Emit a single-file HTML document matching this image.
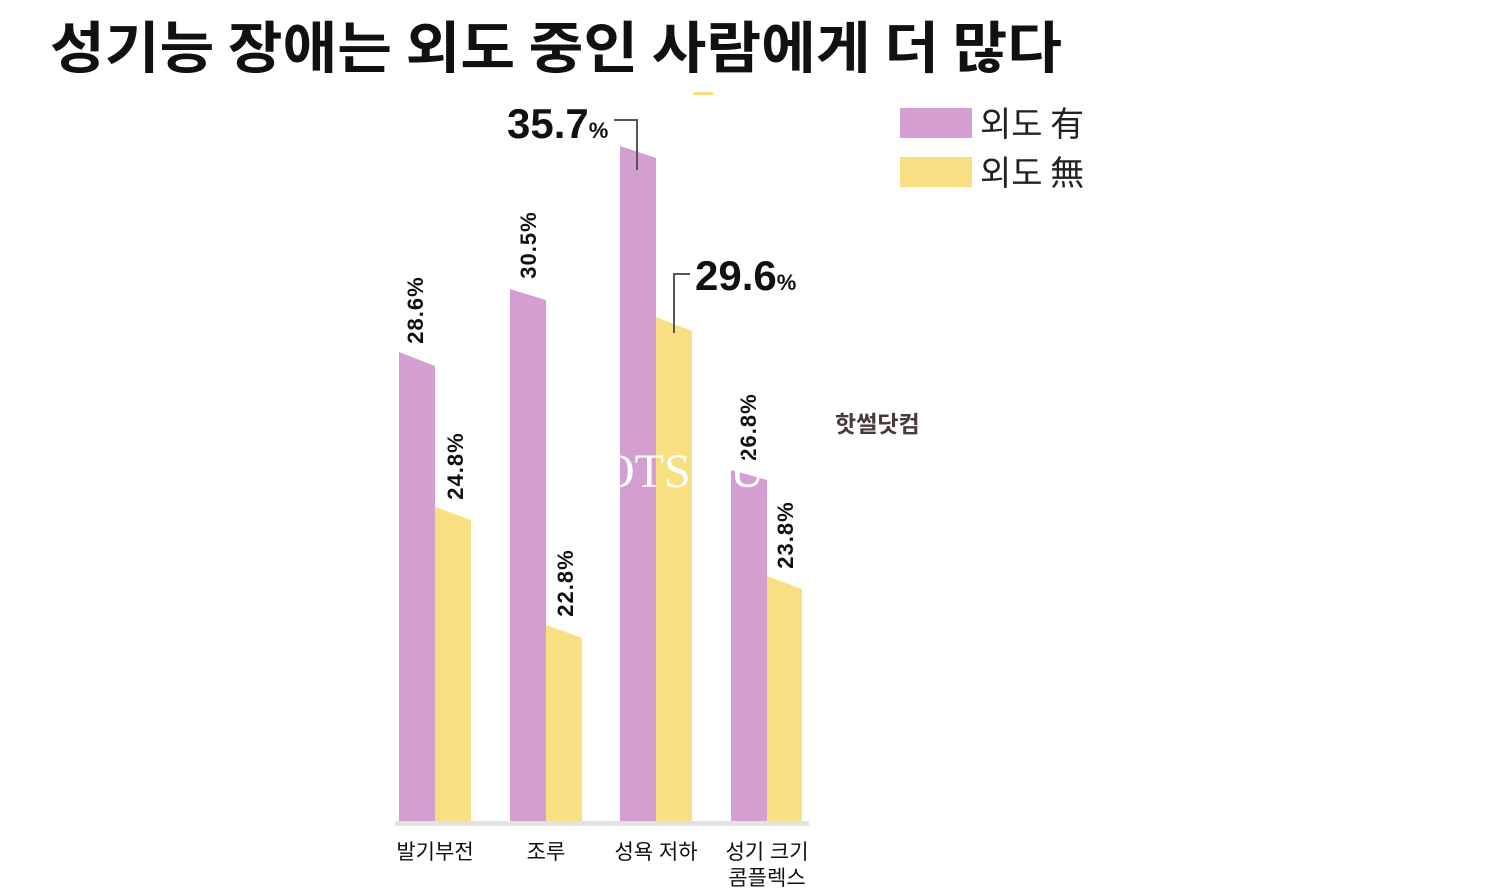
<!DOCTYPE html>
<html><head><meta charset="utf-8"><style>
html,body{margin:0;padding:0;background:#fff;}
svg{display:block;}
text{font-family:"Liberation Sans","Noto Sans CJK KR",sans-serif;}
</style></head><body>
<svg width="1486" height="890" viewBox="0 0 1486 890" xmlns="http://www.w3.org/2000/svg">
<text x="50" y="68" font-size="56" font-weight="bold" fill="#111" textLength="1012" lengthAdjust="spacingAndGlyphs" style="font-family:'Noto Sans CJK KR',sans-serif">성기능 장애는 외도 중인 사람에게 더 많다</text>
<rect x="693" y="92" width="20" height="3" fill="#f8e082"/>
<!-- legend -->
<rect x="900" y="108" width="72" height="30" fill="#d49fd0"/>
<text x="980" y="136" font-size="34" fill="#222" style="font-family:'Noto Sans CJK KR',sans-serif">외도 有</text>
<rect x="900" y="157" width="72" height="30" fill="#f8e082"/>
<text x="980" y="185" font-size="34" fill="#222" style="font-family:'Noto Sans CJK KR',sans-serif">외도 無</text>
<!-- bars -->
<g fill="#d49fd0">
<polygon points="399,352 435,366 435,822 399,822"/>
<polygon points="510,289 546,300 546,822 510,822"/>
<polygon points="620,146 656,158 656,822 620,822"/>
<polygon points="731,470 767,480 767,822 731,822"/>
</g>
<g fill="#f8e082">
<polygon points="435,507 471,520 471,822 435,822"/>
<polygon points="546,625 582,638 582,822 546,822"/>
<polygon points="656,317 692,331 692,822 656,822"/>
<polygon points="767,576 802,589 802,822 767,822"/>
</g>
<rect x="395" y="821" width="414" height="5" fill="#e2e2e2"/>
<!-- rotated labels -->
<g font-size="22" font-weight="bold" fill="#111" text-anchor="middle" letter-spacing="1">
<text transform="translate(423,310) rotate(-90)">28.6%</text>
<text transform="translate(463,466) rotate(-90)">24.8%</text>
<text transform="translate(536,245) rotate(-90)">30.5%</text>
<text transform="translate(573,583) rotate(-90)">22.8%</text>
<text transform="translate(756,427) rotate(-90)">26.8%</text>
<text transform="translate(793,535) rotate(-90)">23.8%</text>
</g>
<!-- big labels -->
<text x="507" y="138" font-size="42" font-weight="bold" fill="#111" letter-spacing="0">35.7<tspan font-size="22">%</tspan></text>
<polyline points="614,120 637,120 637,170" fill="none" stroke="#555" stroke-width="2"/>
<text x="695" y="290" font-size="42" font-weight="bold" fill="#111" letter-spacing="0">29.6<tspan font-size="22">%</tspan></text>
<polyline points="690,274 674,274 674,333" fill="none" stroke="#555" stroke-width="2"/>
<!-- watermark -->
<text x="600" y="487" font-size="48" fill="#fff" style="font-family:'Liberation Serif',serif">OTS</text>
<text x="730" y="487" font-size="48" fill="#fff" style="font-family:'Liberation Serif',serif">U</text>
<text x="835" y="432" font-size="23" font-weight="bold" fill="#4a3a3a" style="font-family:'Noto Sans CJK KR',sans-serif">핫썰닷컴</text>
<!-- categories -->
<g font-size="21" fill="#111" text-anchor="middle" style="font-family:'Noto Sans CJK KR',sans-serif">
<text x="435" y="859">발기부전</text>
<text x="546" y="859">조루</text>
<text x="656" y="859">성욕 저하</text>
<text x="767" y="859">성기 크기</text>
<text x="767" y="885">콤플렉스</text>
</g>
</svg>
</body></html>
